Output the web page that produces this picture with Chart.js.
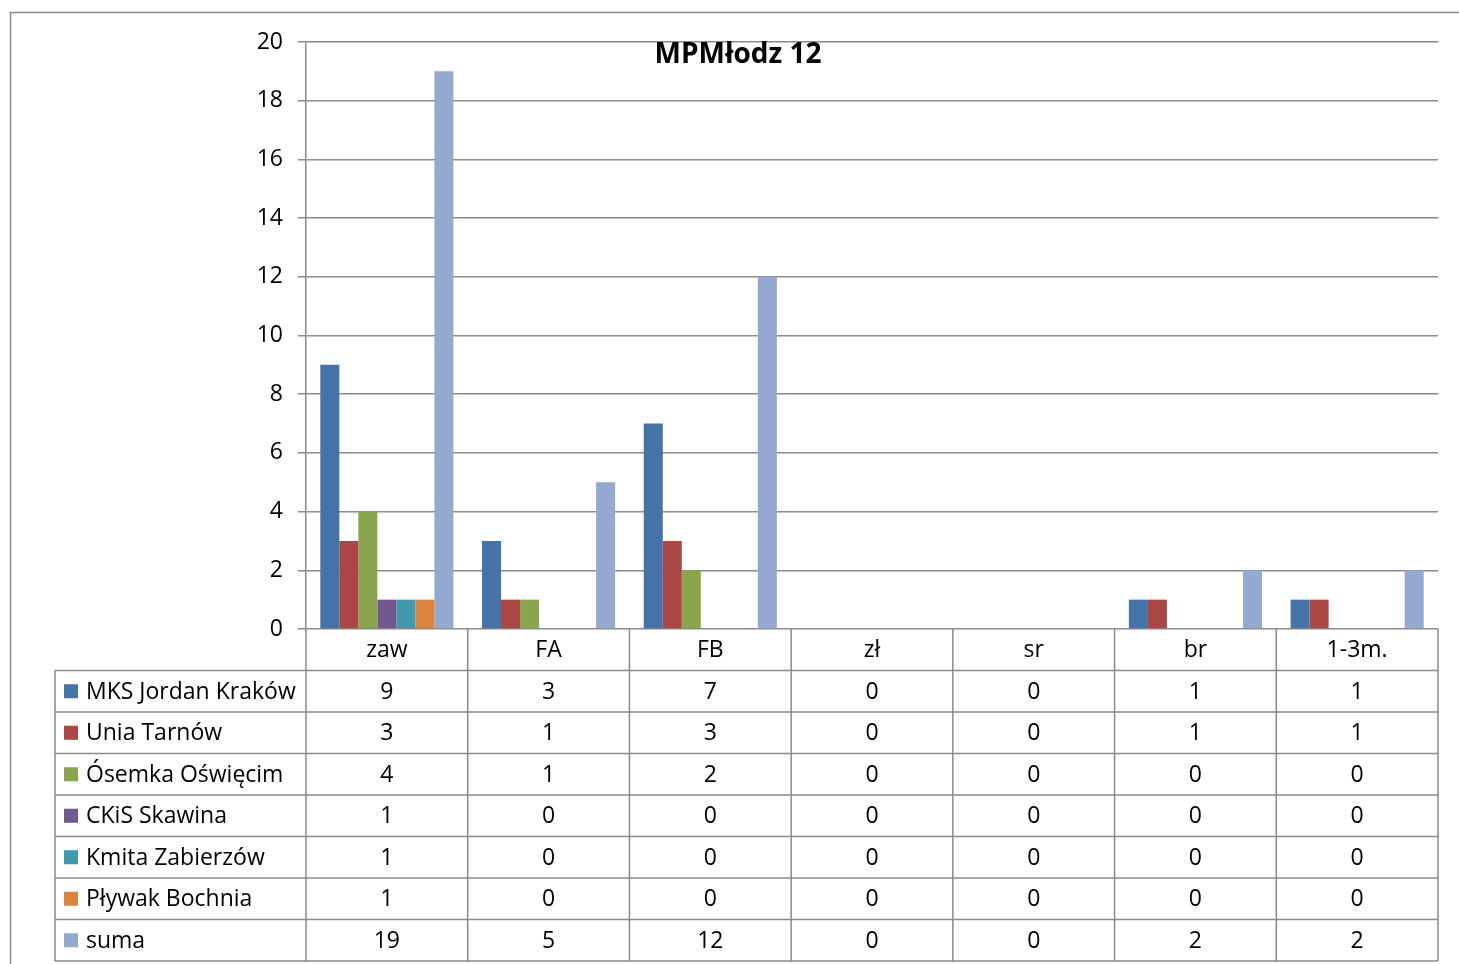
<!DOCTYPE html>
<html>
<head>
<meta charset="utf-8">
<script src="https://cdn.jsdelivr.net/npm/chart.js@4"></script>
<style>
html,body{margin:0;padding:0;background:#fff;}
#wrap{width:1459px;height:964px;}
</style>
</head>
<body>
<div id="wrap"><canvas id="c"></canvas></div>
<script>
const title="MPMłodz 12";
const categories=["zaw","FA","FB","zł","sr","br","1-3m."];
const teams=["MKS Jordan Kraków","Unia Tarnów","Ósemka Oświęcim","CKiS Skawina","Kmita Zabierzów","Pływak Bochnia","suma"];
const mksJordan=[9,3,7,0,0,1,1];
const uniaTarnow=[3,1,3,0,0,1,1];
const osemka=[4,1,2,0,0,0,0];
const ckisSkawina=[1,0,0,0,0,0,0];
const kmita=[1,0,0,0,0,0,0];
const plywak=[1,0,0,0,0,0,0];
const suma=[19,5,12,0,0,2,2];
const colors=["#4572A7","#AA4643","#89A54E","#71588F","#4198AF","#DB843D","#93A9CF"];
const yMax=20, yStep=2;

const FONT='"Open Sans", "Noto Sans", sans-serif';
const GRID='#8a8a8a';

const series=[mksJordan,uniaTarnow,osemka,ckisSkawina,kmita,plywak,suma];

// frame, title and data table under the plot
const tablePlugin={
  id:'table',
  beforeDraw(chart){
    const ctx=chart.ctx;
    ctx.save();
    ctx.strokeStyle=GRID;ctx.lineWidth=1.5;
    ctx.beginPath();
    ctx.moveTo(10.5,chart.height);ctx.lineTo(10.5,12.5);ctx.lineTo(chart.width,12.5);
    ctx.stroke();
    ctx.restore();
  },
  afterDraw(chart){
    const ctx=chart.ctx, a=chart.chartArea, x=chart.scales.x;
    const rowH=41.5, left0=55;
    const colW=(a.right-a.left)/categories.length;
    ctx.save();
    ctx.strokeStyle=GRID;ctx.lineWidth=1.5;
    ctx.beginPath();
    for(let i=0;i<=categories.length;i++){
      const cx=a.left+i*colW;
      ctx.moveTo(cx,a.bottom);ctx.lineTo(cx,a.bottom+rowH*(teams.length+1));
    }
    ctx.moveTo(left0,a.bottom+rowH);ctx.lineTo(left0,a.bottom+rowH*(teams.length+1));
    for(let r=1;r<=teams.length+1;r++){
      const y=a.bottom+r*rowH;
      ctx.moveTo(left0,y);ctx.lineTo(a.right,y);
    }
    ctx.stroke();

    ctx.fillStyle='#000';
    ctx.font='23px '+FONT;
    ctx.textAlign='center';ctx.textBaseline='middle';
    categories.forEach((c,i)=>{
      ctx.fillText(c,x.getPixelForValue(i),a.bottom+rowH/2+1);
    });
    teams.forEach((t,r)=>{
      const yc=a.bottom+rowH*(r+1)+rowH/2;
      ctx.fillStyle=colors[r];
      ctx.fillRect(64,yc-7,14,14);
      ctx.fillStyle='#000';
      ctx.textAlign='left';
      ctx.fillText(t,86,yc+1);
      ctx.textAlign='center';
      series[r].forEach((v,i)=>ctx.fillText(String(v),x.getPixelForValue(i),yc+1));
    });

    ctx.font='bold 28px '+FONT;
    ctx.textAlign='center';
    ctx.fillText(title,738,55);
    ctx.restore();
  }
};

new Chart(document.getElementById('c'),{
  type:'bar',
  data:{
    labels:categories,
    datasets:teams.map((t,i)=>({
      label:t,
      data:series[i],
      backgroundColor:colors[i],
      borderWidth:0,
      barPercentage:1,
      categoryPercentage:0.823
    }))
  },
  options:{
    responsive:true,
    maintainAspectRatio:false,
    animation:false,
    layout:{padding:{left:0,right:21,top:42,bottom:335}},
    plugins:{legend:{display:false},title:{display:false},tooltip:{enabled:false}},
    scales:{
      x:{display:false},
      y:{
        min:0,max:yMax,
        afterFit(s){s.width=306;},
        ticks:{stepSize:yStep,color:'#000',padding:15,font:{family:FONT,size:23}},
        grid:{color:GRID,lineWidth:1.5,tickLength:8},
        border:{color:GRID,width:1.5}
      }
    }
  },
  plugins:[tablePlugin]
});
</script>
</body>
</html>
